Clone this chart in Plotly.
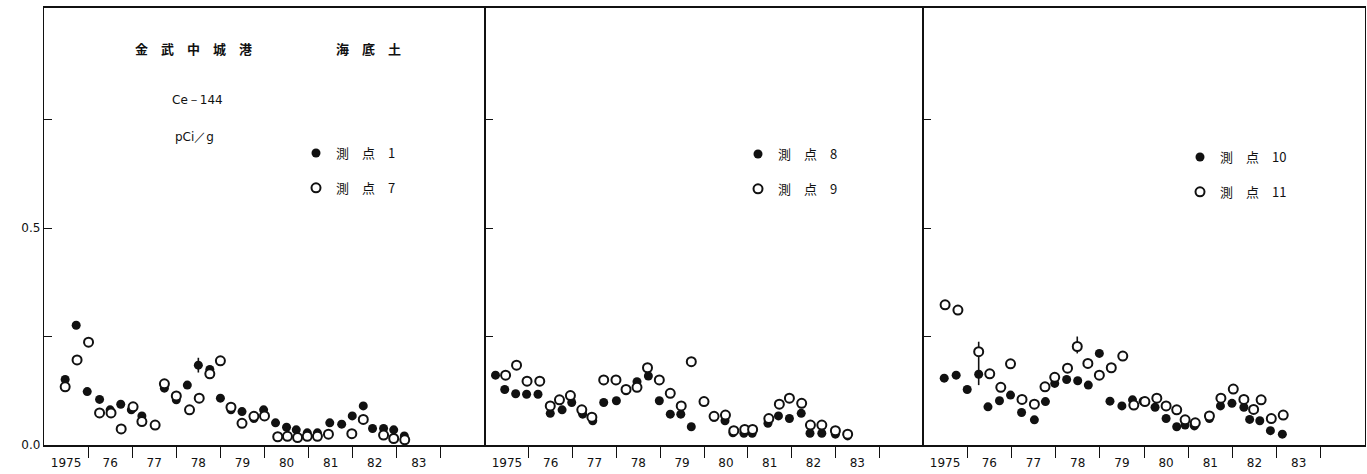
import plotly.graph_objects as go

W, H = 1367, 474

# ---------------- data (decimal year, Ce-144 pCi/g) ----------------
p1_filled_x = [1975.48, 1975.73, 1975.98, 1976.26, 1976.50, 1976.74, 1976.98, 1977.22, 1977.52, 1977.73,
               1978.00, 1978.25, 1978.50, 1978.76, 1979.00, 1979.24, 1979.49, 1979.76, 1979.98, 1980.25,
               1980.50, 1980.72, 1980.97, 1981.20, 1981.48, 1981.75, 1981.99, 1982.24, 1982.45, 1982.70,
               1982.93, 1983.17]
p1_filled_y = [0.151, 0.276, 0.123, 0.105, 0.081, 0.094, 0.081, 0.067, 0.046, 0.131,
               0.104, 0.138, 0.184, 0.174, 0.108, 0.081, 0.077, 0.061, 0.081, 0.051,
               0.041, 0.035, 0.028, 0.028, 0.051, 0.048, 0.067, 0.090, 0.038, 0.038,
               0.035, 0.021]
p1_open_x = [1975.48, 1975.75, 1976.01, 1976.26, 1976.52, 1976.75, 1977.02, 1977.22, 1977.52, 1977.73,
             1978.00, 1978.30, 1978.52, 1978.76, 1979.00, 1979.24, 1979.49, 1979.76, 1980.00, 1980.30,
             1980.52, 1980.75, 1980.97, 1981.20, 1981.45, 1981.98, 1982.24, 1982.70, 1982.93, 1983.18]
p1_open_y = [0.134, 0.196, 0.237, 0.074, 0.074, 0.037, 0.088, 0.054, 0.046, 0.141,
             0.113, 0.081, 0.108, 0.164, 0.194, 0.087, 0.050, 0.066, 0.067, 0.019,
             0.020, 0.017, 0.020, 0.020, 0.025, 0.026, 0.059, 0.023, 0.015, 0.012]

p2_filled_x = [1975.24, 1975.45, 1975.70, 1975.95, 1976.21, 1976.49, 1976.76, 1976.98, 1977.23, 1977.46,
               1977.71, 1978.00, 1978.22, 1978.47, 1978.73, 1978.98, 1979.23, 1979.47, 1979.71, 1980.00,
               1980.23, 1980.48, 1980.66, 1980.91, 1981.10, 1981.46, 1981.70, 1981.95, 1982.22, 1982.42,
               1982.69, 1983.00, 1983.28]
p2_filled_y = [0.161, 0.128, 0.118, 0.117, 0.117, 0.073, 0.081, 0.098, 0.071, 0.056,
               0.098, 0.102, 0.125, 0.146, 0.159, 0.102, 0.071, 0.071, 0.042, 0.100,
               0.064, 0.056, 0.028, 0.027, 0.027, 0.050, 0.067, 0.061, 0.073, 0.027,
               0.027, 0.025, 0.021]
p2_open_x = [1975.47, 1975.72, 1975.96, 1976.25, 1976.49, 1976.70, 1976.95, 1977.21, 1977.44, 1977.71,
             1977.99, 1978.22, 1978.47, 1978.71, 1978.98, 1979.23, 1979.48, 1979.71, 1980.00, 1980.23,
             1980.49, 1980.68, 1980.93, 1981.11, 1981.48, 1981.72, 1981.95, 1982.23, 1982.43, 1982.69,
             1983.00, 1983.28]
p2_open_y = [0.161, 0.184, 0.147, 0.147, 0.090, 0.104, 0.114, 0.081, 0.064, 0.150,
             0.150, 0.128, 0.133, 0.178, 0.150, 0.119, 0.090, 0.192, 0.100, 0.066,
             0.069, 0.033, 0.036, 0.036, 0.061, 0.094, 0.108, 0.096, 0.046, 0.046,
             0.033, 0.025]

p3_filled_x = [1975.48, 1975.75, 1976.00, 1976.26, 1976.47, 1976.73, 1976.98, 1977.23, 1977.52, 1977.77,
               1977.98, 1978.25, 1978.50, 1978.74, 1978.99, 1979.23, 1979.50, 1979.74, 1979.98, 1980.25,
               1980.50, 1980.74, 1980.93, 1981.14, 1981.48, 1981.73, 1981.99, 1982.26, 1982.39, 1982.62,
               1982.86, 1983.13]
p3_filled_y = [0.154, 0.161, 0.128, 0.163, 0.088, 0.102, 0.115, 0.075, 0.058, 0.100,
               0.142, 0.151, 0.148, 0.138, 0.211, 0.101, 0.090, 0.104, 0.101, 0.087,
               0.061, 0.042, 0.046, 0.044, 0.061, 0.090, 0.096, 0.087, 0.059, 0.056,
               0.033, 0.025]
p3_open_x = [1975.50, 1975.79, 1976.26, 1976.51, 1976.76, 1976.98, 1977.24, 1977.52, 1977.76, 1977.98,
             1978.27, 1978.49, 1978.73, 1978.99, 1979.26, 1979.52, 1979.77, 1980.02, 1980.29, 1980.50,
             1980.74, 1980.93, 1981.16, 1981.48, 1981.74, 1982.02, 1982.26, 1982.48, 1982.65, 1982.88,
             1983.15]
p3_open_y = [0.323, 0.311, 0.215, 0.164, 0.133, 0.187, 0.105, 0.094, 0.134, 0.156,
             0.177, 0.227, 0.188, 0.161, 0.178, 0.205, 0.092, 0.100, 0.108, 0.090,
             0.081, 0.058, 0.051, 0.067, 0.108, 0.129, 0.105, 0.082, 0.104, 0.061,
             0.069]

# error bars: index -> (plus, minus)
p1_filled_err = {12: (0.017, 0.017)}
p3_filled_err = {3: (0.075, 0.025)}
p3_open_err = {11: (0.023, 0.016)}

year_labels = ["1975", "76", "77", "78", "79", "80", "81", "82", "83"]
year_label_pos = [1975.5 + i for i in range(len(year_labels))]
year_bounds = [1976 + i for i in range(9)]

legend_names = [("測　点　1", "測　点　7"), ("測　点　8", "測　点　9"), ("測　点　10", "測　点　11")]

# ---------------- figure ----------------
fig = go.Figure()
INK = "#111111"


def err(d, n):
    if not d:
        return None
    plus = [d.get(i, (0, 0))[0] for i in range(n)]
    minus = [d.get(i, (0, 0))[1] for i in range(n)]
    return dict(type="data", symmetric=False, array=plus, arrayminus=minus,
                color=INK, thickness=1.6, width=0)


panels = [
    (p1_filled_x, p1_filled_y, p1_open_x, p1_open_y, p1_filled_err, {}),
    (p2_filled_x, p2_filled_y, p2_open_x, p2_open_y, {}, {}),
    (p3_filled_x, p3_filled_y, p3_open_x, p3_open_y, p3_filled_err, p3_open_err),
]

for k, (fx, fy, ox, oy, fe, oe) in enumerate(panels):
    ax = "" if k == 0 else str(k + 1)
    lg = "legend" if k == 0 else "legend%d" % (k + 1)
    fig.add_trace(go.Scatter(
        x=fx, y=fy, mode="markers", name=legend_names[k][0], xaxis="x" + ax, yaxis="y" + ax,
        legend=lg, legendgroup="f%d" % k,
        marker=dict(symbol="circle", size=9, color=INK, line=dict(width=0)),
        error_y=err(fe, len(fx)), showlegend=True))
    fig.add_trace(go.Scatter(
        x=ox, y=oy, mode="markers", name=legend_names[k][1], xaxis="x" + ax, yaxis="y" + ax,
        legend=lg, legendgroup="o%d" % k,
        marker=dict(symbol="circle", size=9, color="white", line=dict(width=2, color=INK)),
        error_y=err(oe, len(ox)), showlegend=True))

edges = [44, 485, 923, 1365]
ydom = [(H - 445) / H, (H - 8) / H]

layout = dict(
    width=W, height=H, margin=dict(l=0, r=0, t=0, b=0, pad=0, autoexpand=False),
    paper_bgcolor="white", plot_bgcolor="white", showlegend=True,
    font=dict(family="DejaVu Sans", color=INK, size=12),
)

for k in range(3):
    ax = "" if k == 0 else str(k + 1)
    layout["xaxis" + ax] = dict(
        domain=[edges[k] / W, edges[k + 1] / W], range=[1975, 1985], anchor="y" + ax,
        showline=True, linecolor=INK, linewidth=1.5, mirror=True, showgrid=False, zeroline=False,
        automargin=False,
        tickmode="array", tickvals=year_label_pos, ticktext=year_labels,
        ticks="outside", ticklen=6, tickcolor="rgba(0,0,0,0)",
        tickfont=dict(family="DejaVu Sans", size=12, color=INK),
        minor=dict(tickmode="array", tickvals=year_bounds, ticks="outside", ticklen=11,
                   tickwidth=1.4, tickcolor=INK, showgrid=False),
    )
    layout["yaxis" + ax] = dict(
        domain=ydom, range=[0, 1.007], anchor="x" + ax,
        showline=True, linecolor=INK, linewidth=1.3, mirror=True, showgrid=False, zeroline=False,
        automargin=False,
        tickmode="array", tickvals=[0, 0.25, 0.5, 0.75], ticktext=["0.0", "", "0.5", ""],
        ticks="inside", ticklen=8, tickwidth=1.4, tickcolor=INK,
        showticklabels=(k == 0), tickfont=dict(family="DejaVu Sans", size=12, color=INK),
    )

leg_pos = [(296, 138), (738, 139), (1180, 142)]
for k in range(3):
    name = "legend" if k == 0 else "legend%d" % (k + 1)
    layout[name] = dict(
        x=leg_pos[k][0] / W, y=1 - leg_pos[k][1] / H, xanchor="left", yanchor="top",
        bgcolor="rgba(0,0,0,0)", borderwidth=0, traceorder="grouped", tracegroupgap=15,
        font=dict(family="Noto Sans CJK JP", size=13, color=INK), itemsizing="trace",
    )

cjk = dict(family="Noto Sans CJK JP", size=13, color=INK)
layout["annotations"] = [
    dict(x=193 / W, y=1 - 49 / H, xref="paper", yref="paper", text="<b>金　武　中　城　港</b>",
         xanchor="center", yanchor="middle", showarrow=False, font=cjk),
    dict(x=368 / W, y=1 - 49 / H, xref="paper", yref="paper", text="<b>海　底　土</b>",
         xanchor="center", yanchor="middle", showarrow=False, font=cjk),
    dict(x=197 / W, y=1 - 100 / H, xref="paper", yref="paper", text="Ce－144",
         xanchor="center", yanchor="middle", showarrow=False,
         font=dict(family="DejaVu Sans", size=12, color=INK)),
    dict(x=194 / W, y=1 - 137 / H, xref="paper", yref="paper", text="pCi／g",
         xanchor="center", yanchor="middle", showarrow=False,
         font=dict(family="DejaVu Sans", size=12, color=INK)),
]

fig.update_layout(**layout)
fig.write_html("out.html")
